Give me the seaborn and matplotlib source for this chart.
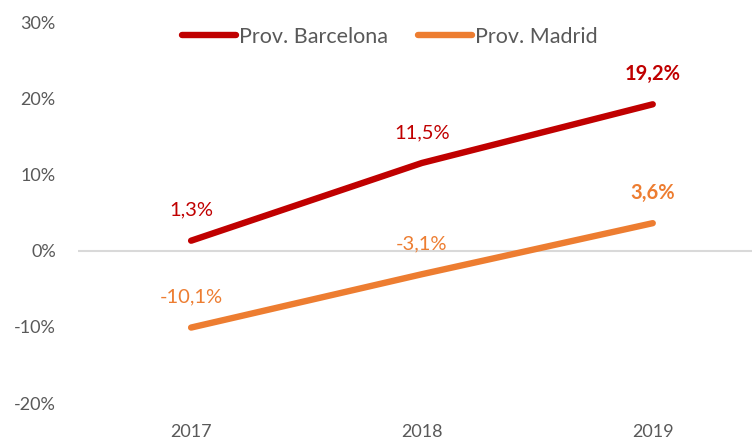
import matplotlib
matplotlib.use("Agg")
import matplotlib.pyplot as plt
import seaborn as sns
import pandas as pd
import numpy as np

years = ["2017", "2018", "2019"]
barcelona = [1.3, 11.5, 19.2]
madrid = [-10.1, -3.1, 3.6]
series_names = ["Prov. Barcelona", "Prov. Madrid"]
yticks = [-20, -10, 0, 10, 20, 30]

sns.set_theme(style="white")
plt.rcParams['font.family'] = ['Lato', 'DejaVu Sans']

df = pd.DataFrame({
    "year": years * 2,
    "value": barcelona + madrid,
    "series": [series_names[0]] * 3 + [series_names[1]] * 3,
})
pos = {y: i for i, y in enumerate(years)}
df["x"] = df["year"].map(pos)

colors = {series_names[0]: "#C00000", series_names[1]: "#ED7D31"}

fig = plt.figure(figsize=(7.52, 4.41), dpi=100)
ax = fig.add_axes([78 / 752, 1 - 403 / 441, 1 - 78 / 752, (403 - 22) / 441])

ax.axhline(0, color="#D9D9D9", lw=1.5, zorder=1)
sns.lineplot(data=df, x="x", y="value", hue="series", palette=colors,
             lw=4.6, ax=ax, solid_capstyle="round", zorder=3, legend=True)

ax.set_xlim(-0.49, 2.43)
ax.set_ylim(-20, 30)
ax.set_yticks(yticks)
ax.set_yticklabels([f"{t}%" for t in yticks])
ax.set_xticks(range(len(years)))
ax.set_xticklabels(years)
ax.tick_params(axis="both", colors="#595959", labelsize=13, length=0)
ax.tick_params(axis="y", pad=16)
ax.tick_params(axis="x", pad=15)
ax.set_xlabel("")
ax.set_ylabel("")
for s in ax.spines.values():
    s.set_visible(False)

for name, vals in zip(series_names, [barcelona, madrid]):
    for i, v in enumerate(vals):
        txt = f"{v:.1f}%".replace(".", ",")
        ax.annotate(txt, (i, v), xytext=(0, 22), textcoords="offset points",
                    ha="center", va="center", fontsize=14.5,
                    color=colors[name],
                    fontweight="bold" if i == len(vals) - 1 else "normal")

handles, labels = ax.get_legend_handles_labels()
leg = fig.legend(handles, labels, loc="center", bbox_to_anchor=(390 / 752, 1 - 37 / 441),
                 ncol=2, frameon=False, fontsize=15.5, handlelength=2.5,
                 handletextpad=0.15, columnspacing=1.4)
for t in leg.get_texts():
    t.set_color("#595959")
for l in leg.get_lines():
    l.set_linewidth(4.6)
    l.set_solid_capstyle("round")
if ax.get_legend():
    ax.get_legend().remove()

fig.savefig("out.png", dpi=100)
